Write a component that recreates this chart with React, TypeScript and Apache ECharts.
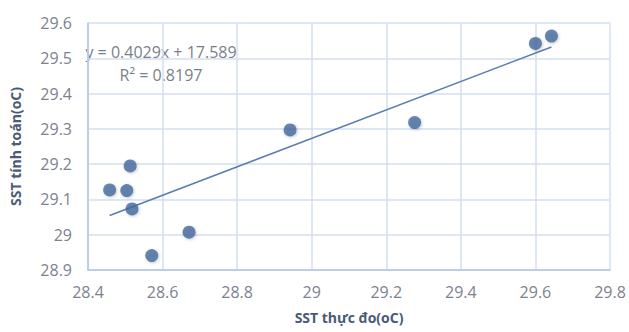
import React, { useEffect, useRef } from "react";
import * as echarts from "echarts";

const measured: number[] = [28.458, 28.504, 28.513, 28.518, 28.571, 28.671, 28.942, 29.276, 29.6, 29.643];
const computed: number[] = [29.127, 29.125, 29.195, 29.073, 28.941, 29.007, 29.297, 29.318, 29.542, 29.563];
const slope = 0.4029;
const intercept = 17.589;
const equationText = "y = 0.4029x + 17.589";
const r2Text = "R² = 0.8197";
const xTitle = "SST thực đo(oC)";
const yTitle = "SST tính toán(oC)";

export default function App() {
  const ref = useRef<HTMLDivElement>(null);
  useEffect(() => {
    if (!ref.current) return;
    const chart = echarts.init(ref.current, undefined, { renderer: "svg" });
    const xMin = Math.min(...measured);
    const xMax = Math.max(...measured);
    const font = "'Open Sans', 'Noto Sans', sans-serif";
    chart.setOption({
      animation: false,
      backgroundColor: "#ffffff",
      grid: { left: 85, right: 19, top: 23, bottom: 62 },
      xAxis: {
        type: "value",
        min: 28.4,
        max: 29.8,
        interval: 0.2,
        name: xTitle,
        nameLocation: "middle",
        nameGap: 40,
        nameTextStyle: { color: "#4a5a78", fontSize: 14, fontWeight: "bold", fontFamily: font },
        axisLine: { show: true, lineStyle: { color: "#b4c6e4", width: 1.5 } },
        axisTick: { show: false },
        splitLine: { show: true, lineStyle: { color: "#d5def0", width: 1.5 } },
        axisLabel: {
          color: "#7c8290",
          fontSize: 16,
          fontFamily: font,
          margin: 14,
          formatter: (v: number) => String(parseFloat(v.toFixed(1))),
        },
      },
      yAxis: {
        type: "value",
        min: 28.9,
        max: 29.6,
        interval: 0.1,
        name: yTitle,
        nameLocation: "middle",
        nameGap: 66,
        nameRotate: 90,
        nameTextStyle: { color: "#4a5a78", fontSize: 14, fontWeight: "bold", fontFamily: font },
        axisLine: { show: true, lineStyle: { color: "#b4c6e4", width: 1.5 } },
        axisTick: { show: false },
        splitLine: { show: true, lineStyle: { color: "#d5def0", width: 1.5 } },
        axisLabel: {
          color: "#7c8290",
          fontSize: 16,
          fontFamily: font,
          margin: 16,
          formatter: (v: number) => String(parseFloat(v.toFixed(1))),
        },
      },
      series: [
        {
          type: "line",
          data: [
            [xMin, slope * xMin + intercept],
            [xMax, slope * xMax + intercept],
          ],
          symbol: "none",
          lineStyle: { color: "#5a7db3", width: 1.6 },
          z: 2,
        },
        {
          type: "scatter",
          data: measured.map((x, i) => [x, computed[i]]),
          symbolSize: 13,
          itemStyle: {
            color: "#44699f",
            shadowColor: "rgba(0,0,0,0.25)",
            shadowBlur: 3,
            shadowOffsetX: 1,
            shadowOffsetY: 1,
          },
          z: 3,
        },
      ],
      graphic: [
        {
          type: "text",
          x: 161,
          y: 52,
          style: {
            text: equationText,
            fill: "#7a7f8a",
            fontSize: 16,
            fontFamily: font,
            align: "center",
            verticalAlign: "middle",
          },
        },
        {
          type: "text",
          x: 161,
          y: 75,
          style: {
            text: r2Text,
            fill: "#7a7f8a",
            fontSize: 16,
            fontFamily: font,
            align: "center",
            verticalAlign: "middle",
          },
        },
      ],
    });
    return () => chart.dispose();
  }, []);
  return <div ref={ref} style={{ width: 629, height: 332, position: "absolute", left: 0, top: 0 }} />;
}
